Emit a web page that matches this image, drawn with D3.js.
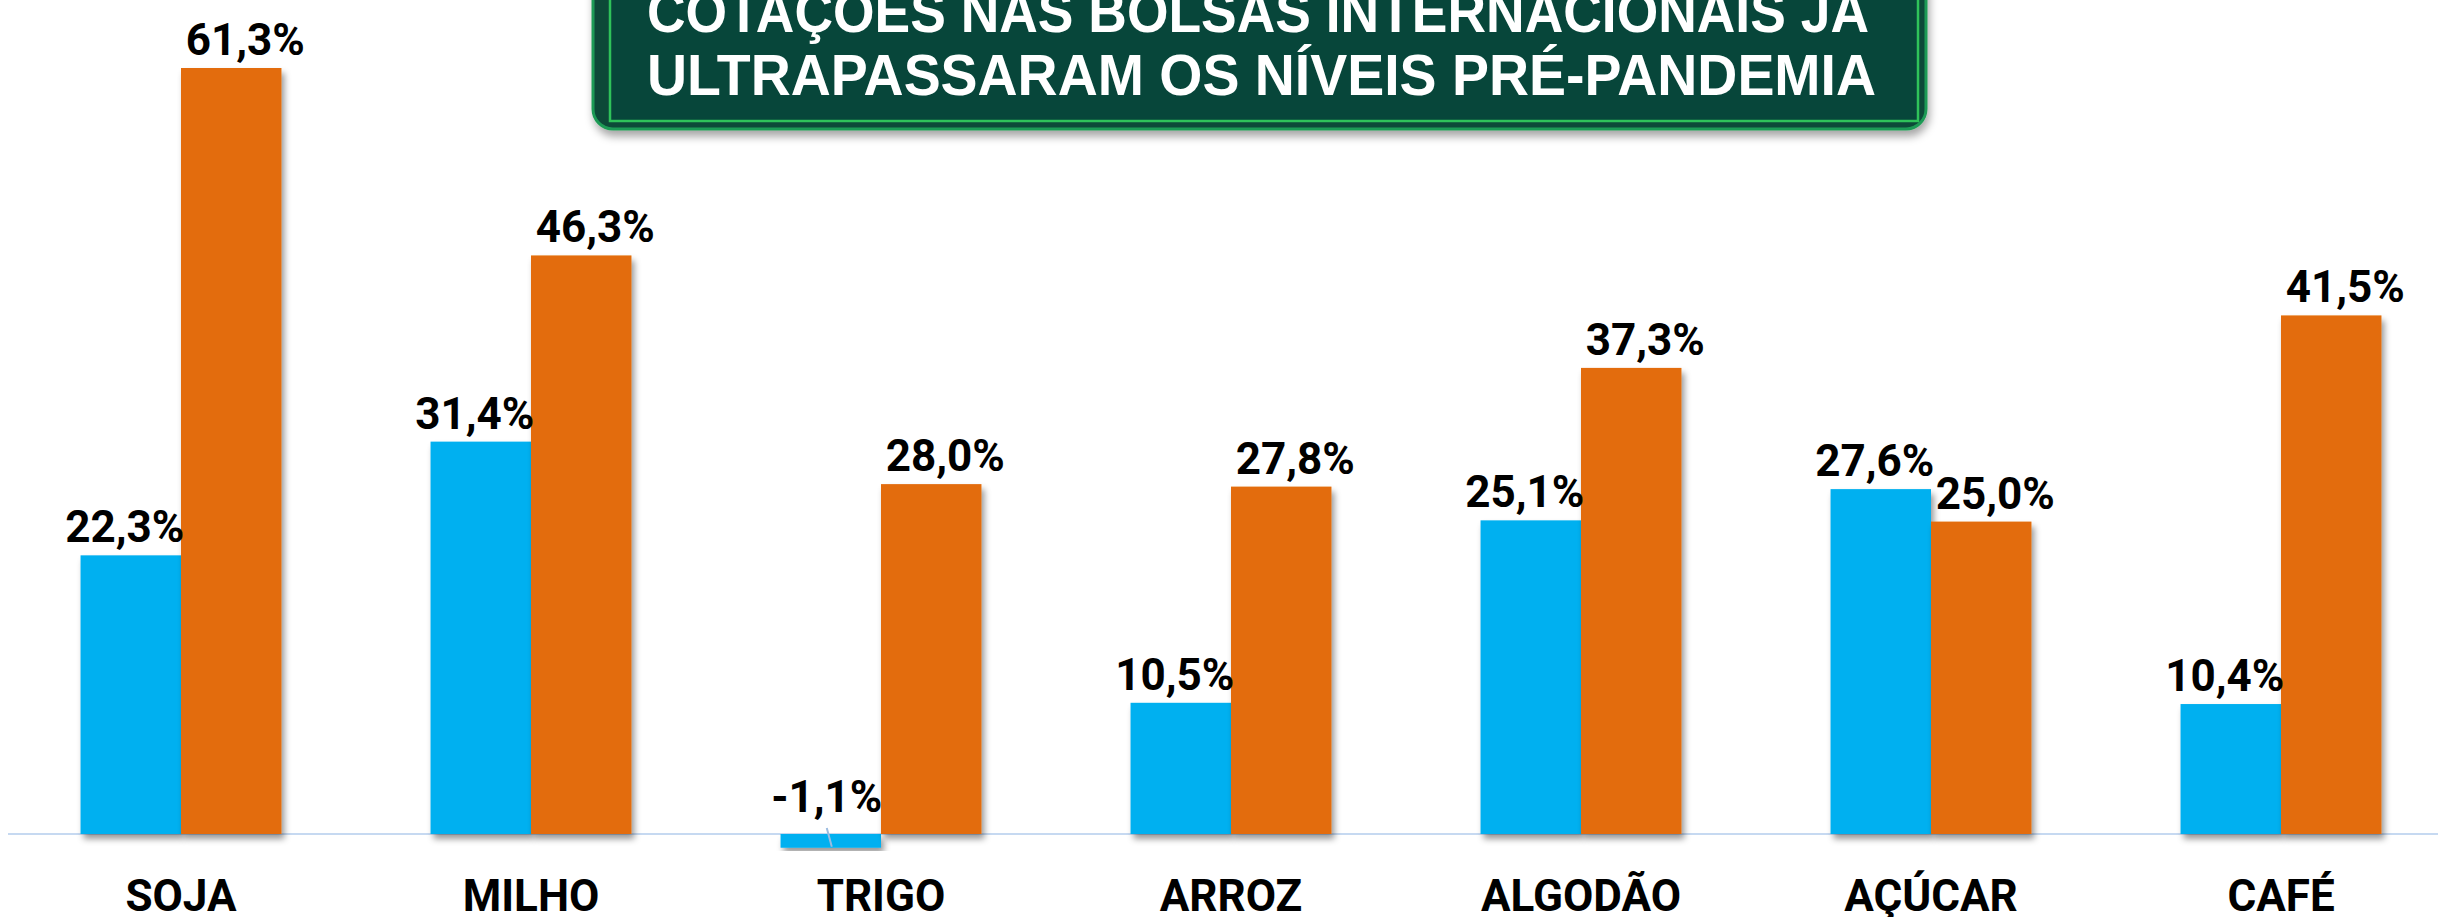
<!DOCTYPE html>
<html>
<head>
<meta charset="utf-8">
<script src="https://cdn.jsdelivr.net/npm/d3@7"></script>
<style>
    body { margin: 0; background: #fff; }
    svg { display: block; }
</style>
</head>
<body>
<svg id="chart" width="2438" height="917"></svg>
<script>
const categories = ['SOJA', 'MILHO', 'TRIGO', 'ARROZ', 'ALGODÃO', 'AÇÚCAR', 'CAFÉ'];
const seriesNames = ['serieA', 'serieB'];
const serieA = [22.3, 31.4, -1.1, 10.5, 25.1, 27.6, 10.4];
const serieB = [61.3, 46.3, 28.0, 27.8, 37.3, 25.0, 41.5];
const titleLines = ['COTAÇÕES NAS BOLSAS INTERNACIONAIS JÁ', 'ULTRAPASSARAM OS NÍVEIS PRÉ-PANDEMIA'];

const colors = { serieA: '#00b0f0', serieB: '#e36c0a' };

let svg = d3.select('#chart');
const width = +svg.attr('width');

let defs = svg.append('defs');
defs.append('filter')
    .attr('id', 'bar-shadow')
    .attr('x', '-10%').attr('y', '-10%')
    .attr('width', '130%').attr('height', '130%')
    .append('feDropShadow')
    .attr('dx', 3).attr('dy', 5)
    .attr('stdDeviation', 3)
    .attr('flood-color', '#000')
    .attr('flood-opacity', 0.4);

defs.append('filter')
    .attr('id', 'box-shadow')
    .attr('x', '-5%').attr('y', '-20%')
    .attr('width', '110%').attr('height', '150%')
    .append('feDropShadow')
    .attr('dx', 2).attr('dy', 6)
    .attr('stdDeviation', 4)
    .attr('flood-color', '#000')
    .attr('flood-opacity', 0.35);

let x0 = d3.scaleBand()
    .domain(categories)
    .range([6, 2456])
    .paddingInner(0.426)
    .paddingOuter(0.213);

let x1 = d3.scaleBand()
    .domain(seriesNames)
    .range([0, x0.bandwidth()]);

let y = d3.scaleLinear()
    .domain([0, 61.3])
    .range([834, 68]);

let rows = categories.map((c, i) => ({ cat: c, serieA: serieA[i], serieB: serieB[i] }));

// baseline
svg.append('line')
    .attr('x1', 8).attr('x2', width)
    .attr('y1', y(0)).attr('y2', y(0))
    .attr('stroke', '#c6d9f1')
    .attr('stroke-width', 2);

let groups = svg.append('g')
    .selectAll('g')
    .data(rows)
    .join('g')
    .attr('transform', d => `translate(${x0(d.cat)},0)`);

let bars = groups.selectAll('rect')
    .data(d => seriesNames.map(k => ({ key: k, value: d[k] })))
    .join('rect')
    .attr('x', d => x1(d.key))
    .attr('width', x1.bandwidth())
    .attr('y', d => y(Math.max(0, d.value)))
    .attr('height', d => Math.abs(y(d.value) - y(0)))
    .attr('fill', d => colors[d.key])
    .attr('filter', 'url(#bar-shadow)');

// leader line for negative values
groups.selectAll('line.leader')
    .data(d => seriesNames.map(k => ({ key: k, value: d[k] })).filter(e => e.value < 0))
    .join('line')
    .attr('class', 'leader')
    .attr('x1', d => x1(d.key) + x1.bandwidth() / 2 - 4)
    .attr('y1', y(0) - 6)
    .attr('x2', d => x1(d.key) + x1.bandwidth() / 2 + 1)
    .attr('y2', d => y(d.value) - 1)
    .attr('stroke', '#9bbbe0')
    .attr('stroke-width', 2);

const labelShift = { serieA: -6, serieB: 14 };
const fmt = v => d3.format('.1f')(v).replace('.', ',').replace('\u2212', '-') + '%';

groups.selectAll('text.value')
    .data(d => seriesNames.map(k => ({ key: k, value: d[k] })))
    .join('text')
    .attr('class', 'value')
    .attr('x', d => x1(d.key) + x1.bandwidth() / 2 + labelShift[d.key] + (d.value < 0 ? 2 : 0))
    .attr('y', d => d.value < 0 ? y(0) - 22 : y(d.value) - 13)
    .attr('text-anchor', 'middle')
    .attr('font-family', 'Roboto, sans-serif')
    .attr('font-weight', 'bold')
    .attr('font-size', 44)
    .attr('fill', '#000')
    .text(d => fmt(d.value));

// category labels
svg.append('g')
    .selectAll('text')
    .data(categories)
    .join('text')
    .attr('x', d => x0(d) + x0.bandwidth() / 2)
    .attr('y', 911)
    .attr('text-anchor', 'middle')
    .attr('font-family', 'Roboto, sans-serif')
    .attr('font-weight', 'bold')
    .attr('font-size', 44)
    .attr('fill', '#000')
    .text(d => d);

// title box
let titleG = svg.append('g');
titleG.append('rect')
    .attr('x', 593).attr('y', -40)
    .attr('width', 1333).attr('height', 169)
    .attr('rx', 20)
    .attr('fill', '#0b4a38')
    .attr('stroke', '#1f9a55')
    .attr('stroke-width', 3)
    .attr('filter', 'url(#box-shadow)');
titleG.append('rect')
    .attr('x', 610).attr('y', -40)
    .attr('width', 1308).attr('height', 161)
    .attr('fill', '#07463a')
    .attr('stroke', '#2fc25a')
    .attr('stroke-width', 2.5);

titleG.selectAll('text')
    .data(titleLines)
    .join('text')
    .attr('x', 647)
    .attr('y', (d, i) => 32 + i * 63)
    .attr('textLength', (d, i) => i === 0 ? 1222 : 1229)
    .attr('lengthAdjust', 'spacingAndGlyphs')
    .attr('font-family', '"Liberation Sans", Arial, sans-serif')
    .attr('font-weight', 'bold')
    .attr('font-size', 58)
    .attr('fill', '#fff')
    .text(d => d);
</script>
</body>
</html>
